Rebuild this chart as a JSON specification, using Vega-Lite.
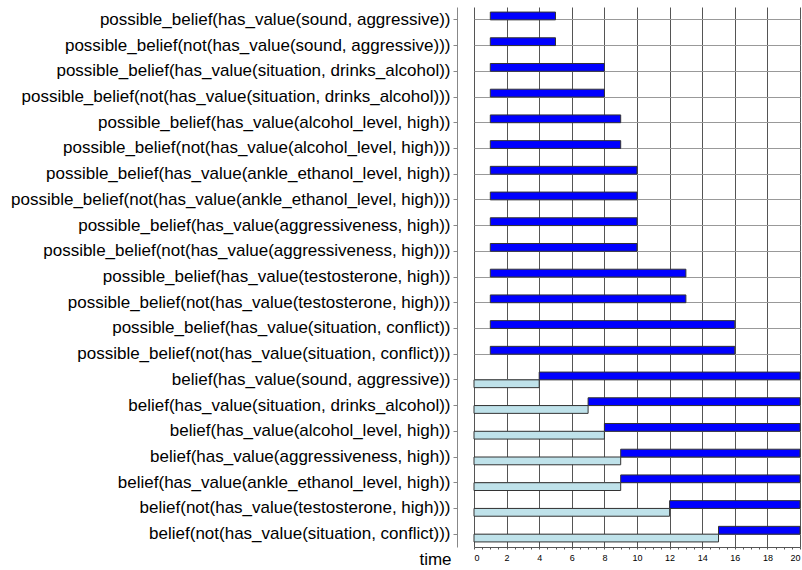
{
  "$schema": "https://vega.github.io/schema/vega-lite/v6.json",
  "width": 326,
  "height": 540,
  "autosize": {"type": "none"},
  "padding": {"left": 474, "top": 7, "right": 2, "bottom": 23},
  "background": "white",
  "config": {"view": {"stroke": null}, "font": "Liberation Sans"},
  "data": {"values": [
    {"label": "possible_belief(has_value(sound, aggressive))", "start": 1, "end": 5, "kind": "blue", "pos": "upper"},
    {"label": "possible_belief(not(has_value(sound, aggressive)))", "start": 1, "end": 5, "kind": "blue", "pos": "upper"},
    {"label": "possible_belief(has_value(situation, drinks_alcohol))", "start": 1, "end": 8, "kind": "blue", "pos": "upper"},
    {"label": "possible_belief(not(has_value(situation, drinks_alcohol)))", "start": 1, "end": 8, "kind": "blue", "pos": "upper"},
    {"label": "possible_belief(has_value(alcohol_level, high))", "start": 1, "end": 9, "kind": "blue", "pos": "upper"},
    {"label": "possible_belief(not(has_value(alcohol_level, high)))", "start": 1, "end": 9, "kind": "blue", "pos": "upper"},
    {"label": "possible_belief(has_value(ankle_ethanol_level, high))", "start": 1, "end": 10, "kind": "blue", "pos": "upper"},
    {"label": "possible_belief(not(has_value(ankle_ethanol_level, high)))", "start": 1, "end": 10, "kind": "blue", "pos": "upper"},
    {"label": "possible_belief(has_value(aggressiveness, high))", "start": 1, "end": 10, "kind": "blue", "pos": "upper"},
    {"label": "possible_belief(not(has_value(aggressiveness, high)))", "start": 1, "end": 10, "kind": "blue", "pos": "upper"},
    {"label": "possible_belief(has_value(testosterone, high))", "start": 1, "end": 13, "kind": "blue", "pos": "upper"},
    {"label": "possible_belief(not(has_value(testosterone, high)))", "start": 1, "end": 13, "kind": "blue", "pos": "upper"},
    {"label": "possible_belief(has_value(situation, conflict))", "start": 1, "end": 16, "kind": "blue", "pos": "upper"},
    {"label": "possible_belief(not(has_value(situation, conflict)))", "start": 1, "end": 16, "kind": "blue", "pos": "upper"},
    {"label": "belief(has_value(sound, aggressive))", "start": 4, "end": 20, "kind": "blue", "pos": "upper"},
    {"label": "belief(has_value(sound, aggressive))", "start": 0, "end": 4, "kind": "light", "pos": "lower"},
    {"label": "belief(has_value(situation, drinks_alcohol))", "start": 7, "end": 20, "kind": "blue", "pos": "upper"},
    {"label": "belief(has_value(situation, drinks_alcohol))", "start": 0, "end": 7, "kind": "light", "pos": "lower"},
    {"label": "belief(has_value(alcohol_level, high))", "start": 8, "end": 20, "kind": "blue", "pos": "upper"},
    {"label": "belief(has_value(alcohol_level, high))", "start": 0, "end": 8, "kind": "light", "pos": "lower"},
    {"label": "belief(has_value(aggressiveness, high))", "start": 9, "end": 20, "kind": "blue", "pos": "upper"},
    {"label": "belief(has_value(aggressiveness, high))", "start": 0, "end": 9, "kind": "light", "pos": "lower"},
    {"label": "belief(has_value(ankle_ethanol_level, high))", "start": 9, "end": 20, "kind": "blue", "pos": "upper"},
    {"label": "belief(has_value(ankle_ethanol_level, high))", "start": 0, "end": 9, "kind": "light", "pos": "lower"},
    {"label": "belief(not(has_value(testosterone, high)))", "start": 12, "end": 20, "kind": "blue", "pos": "upper"},
    {"label": "belief(not(has_value(testosterone, high)))", "start": 0, "end": 12, "kind": "light", "pos": "lower"},
    {"label": "belief(not(has_value(situation, conflict)))", "start": 15, "end": 20, "kind": "blue", "pos": "upper"},
    {"label": "belief(not(has_value(situation, conflict)))", "start": 0, "end": 15, "kind": "light", "pos": "lower"}
  ]},
  "mark": {"type": "bar", "stroke": "#333333", "strokeWidth": 1},
  "encoding": {
    "y": {
      "field": "label", "type": "nominal", "sort": null,
      "scale": {"paddingInner": 0, "paddingOuter": 0},
      "axis": {
        "title": null, "offset": 17, "grid": true, "gridColor": "#999999", "gridWidth": 1,
        "domainColor": "#888888", "tickColor": "#888888", "tickSize": 4,
        "labelFontSize": 17, "labelColor": "#000000", "labelPadding": 3, "labelLimit": 0
      }
    },
    "yOffset": {
      "field": "pos", "type": "nominal",
      "scale": {"domain": ["upper", "lower"], "paddingInner": 0, "paddingOuter": 0.65}
    },
    "x": {
      "field": "start", "type": "quantitative",
      "scale": {"domain": [0, 20], "nice": false},
      "axis": {
        "values": [0,0.5,1,1.5,2,2.5,3,3.5,4,4.5,5,5.5,6,6.5,7,7.5,8,8.5,9,9.5,10,10.5,11,11.5,12,12.5,13,13.5,14,14.5,15,15.5,16,16.5,17,17.5,18,18.5,19,19.5,20],
        "labelExpr": "datum.value % 2 === 0 ? format(datum.value, 'd') : ''",
        "grid": true, "gridColor": "#555555",
        "gridOpacity": {"condition": {"test": "datum.value % 2 !== 0", "value": 0}, "value": 1},
        "tickSize": 2, "tickColor": "#555555", "domainColor": "#555555",
        "labelFontSize": 9, "labelColor": "#000000", "labelPadding": 4,
        "title": "time", "titleFontSize": 17, "titleFontWeight": "normal", "titleColor": "#000000",
        "titleX": -39, "titleY": 12, "titleAlign": "center", "titleBaseline": "middle"
      }
    },
    "x2": {"field": "end"},
    "color": {
      "field": "kind", "type": "nominal",
      "scale": {"domain": ["blue", "light"], "range": ["#0000ff", "#bfe2ea"]},
      "legend": null
    }
  }
}
